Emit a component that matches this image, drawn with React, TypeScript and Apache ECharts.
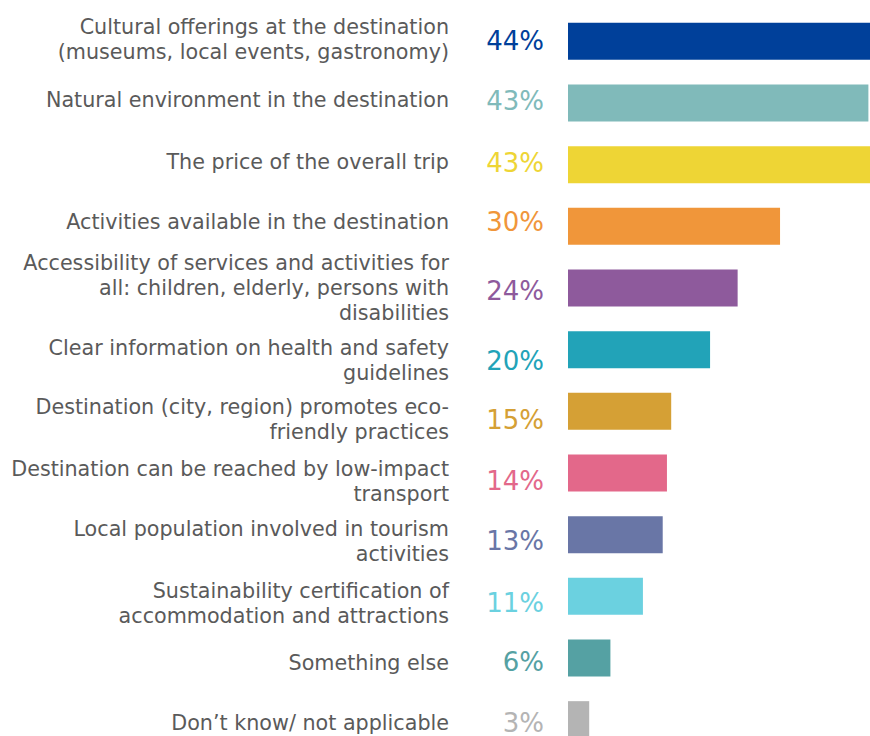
import React, { useEffect, useRef } from "react";
import * as echarts from "echarts";

const categories = [
  "Cultural offerings at the destination\n(museums, local events, gastronomy)",
  "Natural environment in the destination",
  "The price of the overall trip",
  "Activities available in the destination",
  "Accessibility of services and activities for\nall: children, elderly, persons with\ndisabilities",
  "Clear information on health and safety\nguidelines",
  "Destination (city, region) promotes eco-\nfriendly practices",
  "Destination can be reached by low-impact\ntransport",
  "Local population involved in tourism\nactivities",
  "Sustainability certification of\naccommodation and attractions",
  "Something else",
  "Don\u2019t know/ not applicable",
];

const values = [44.2, 42.5, 43.3, 30, 24, 20.1, 14.6, 14, 13.4, 10.6, 6, 3];

const colors = [
  "#00409a",
  "#80baba",
  "#eed535",
  "#f0963a",
  "#8e5a9c",
  "#22a3b8",
  "#d5a035",
  "#e3688a",
  "#6976a6",
  "#6bd1e0",
  "#55a1a3",
  "#b4b4b4",
];

// vertical drift of the text rows relative to the bars (layout, px)
const pctOffsets = [0, -2, -2, -4, 3, 11, 9, 8, 6, 7, 4, 3];
const catOffsets = [-1.5, -3, -3, -4, 0, 10.5, 8.5, 8, 6.5, 7, 4.5, 3.5];

const labelFont = {
  fontFamily: "DejaVu Sans",
  fontSize: 20.7,
  lineHeight: 25,
  color: "#5a5a5a",
};

export default function App() {
  const ref = useRef<HTMLDivElement>(null);
  useEffect(() => {
    if (!ref.current) return;
    const chart = echarts.init(ref.current, null, { renderer: "svg" });
    const rich: Record<string, any> = {};
    catOffsets.forEach((d, i) => {
      rich["r" + i] = {
        ...labelFont,
        padding: d >= 0 ? [2 * d, 0, 0, 0] : [0, 0, -2 * d, 0],
      };
    });
    chart.setOption({
      animation: false,
      backgroundColor: "#ffffff",
      grid: { left: 568, top: 10.5, width: 311, height: 740 },
      xAxis: {
        type: "value",
        min: 0,
        max: 44,
        show: false,
      },
      yAxis: {
        type: "category",
        inverse: true,
        data: categories,
        axisLine: { show: false },
        axisTick: { show: false },
        axisLabel: {
          margin: 119,
          ...labelFont,
          formatter: (value: string, index: number) =>
            value
              .split("\n")
              .map((l) => "{r" + index + "|" + l + "}")
              .join("\n"),
          rich,
        },
      },
      series: [
        {
          type: "bar",
          barWidth: 37,
          data: values.map((v, i) => ({
            value: v,
            itemStyle: { color: colors[i] },
            label: { color: colors[i], offset: [0, pctOffsets[i]] },
          })),
          label: {
            show: true,
            position: "left",
            distance: 24,
            fontFamily: "DejaVu Sans",
            fontSize: 26,
            formatter: (p: any) => Math.round(p.value) + "%",
          },
        },
      ],
    });
    return () => chart.dispose();
  }, []);
  return (
    <div
      ref={ref}
      style={{ position: "fixed", left: 0, top: 0, width: 880, height: 752 }}
    />
  );
}
